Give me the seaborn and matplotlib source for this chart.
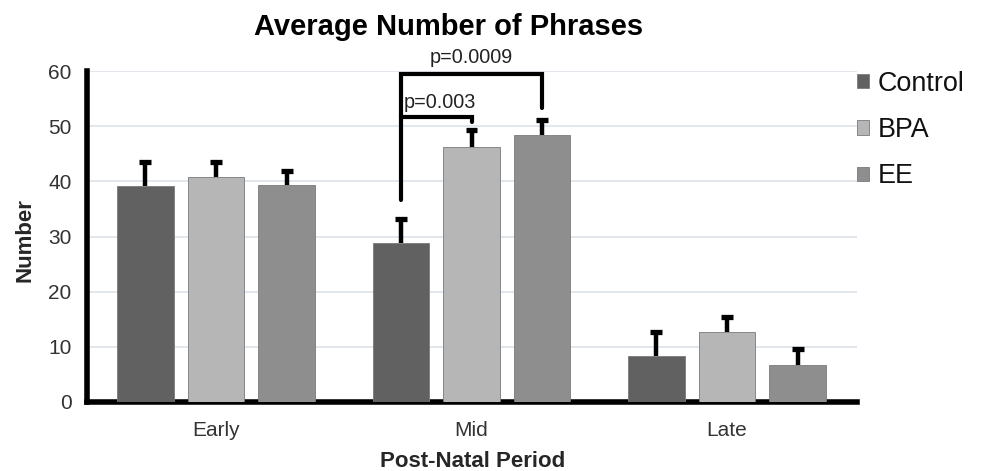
import matplotlib
matplotlib.use("Agg")
import matplotlib.pyplot as plt
from matplotlib.patches import Patch
import seaborn as sns
import pandas as pd

# Data
periods = ["Early", "Mid", "Late"]
groups = ["Control", "BPA", "EE"]
control_mean = [39.1, 28.8, 8.3]
bpa_mean = [40.8, 46.2, 12.7]
ee_mean = [39.3, 48.4, 6.7]
control_err = [4.9, 4.9, 4.9]
bpa_err = [3.2, 3.6, 3.2]
ee_err = [3.1, 3.2, 3.3]
y_ticks = [0, 10, 20, 30, 40, 50, 60]

colors = ["#616161", "#b6b6b6", "#8e8e8e"]

means = {"Control": control_mean, "BPA": bpa_mean, "EE": ee_mean}
errs = {"Control": control_err, "BPA": bpa_err, "EE": ee_err}

rows = []
for g in groups:
    for p, m, e in zip(periods, means[g], errs[g]):
        rows.append({"Period": p, "Group": g, "Number": m, "Err": e})
df = pd.DataFrame(rows)

sns.set_theme(style="white")
plt.rcParams["font.family"] = ["Liberation Sans", "DejaVu Sans"]

fig = plt.figure(figsize=(9.82, 4.71), dpi=100)
ax = fig.add_axes([0.0886, 0.1465, 0.7844, 0.7025])

sns.barplot(data=df, x="Period", y="Number", hue="Group", order=periods,
            hue_order=groups, palette=colors, errorbar=None, width=0.83,
            gap=0.2, edgecolor="#7a7a7a", linewidth=0.6, ax=ax, zorder=3,
            legend=False)

bar_sets = list(ax.containers)

# Upward-only error bars: stem from the bar top, flat cap at mean + error
cap_half = 0.023
cap_thick = 0.45
for container, g in zip(bar_sets, groups):
    for patch, e in zip(container.patches, errs[g]):
        xc = patch.get_x() + patch.get_width() / 2
        h = patch.get_height()
        top = h + e - cap_thick
        ax.plot([xc, xc], [h, top], color="black", lw=3.2,
                solid_capstyle="butt", zorder=4)
        ax.plot([xc - cap_half, xc + cap_half], [top, top], color="black",
                lw=3.8, solid_capstyle="butt", zorder=4)

# Significance brackets over the Mid group
mid = [c.patches[1] for c in bar_sets]
xs = [p.get_x() + p.get_width() / 2 for p in mid]
lw = 3
ax.plot([xs[0], xs[0], xs[1], xs[1]], [36.6, 51.6, 51.6, 50.7],
        color="black", lw=lw, solid_joinstyle="miter", zorder=5, clip_on=False)
ax.plot([xs[0], xs[0], xs[2], xs[2]], [51.6, 59.4, 59.4, 53.3],
        color="black", lw=lw, solid_joinstyle="miter", zorder=5, clip_on=False)
ax.text((xs[0] + xs[1]) / 2 + 0.015, 52.5, "p=0.003", ha="center",
        va="bottom", fontsize=14.3, color="#222222")
ax.text((xs[0] + xs[2]) / 2, 60.7, "p=0.0009", ha="center", va="bottom",
        fontsize=14.3, color="#222222")

ax.set_ylim(0, 60)
ax.set_xlim(-0.505, 2.51)
ax.set_yticks(y_ticks)
ax.yaxis.grid(True, color="#dde1ea", lw=1.2, zorder=0)
ax.xaxis.grid(False)
ax.set_axisbelow(True)
ax.tick_params(axis="y", length=0, labelsize=15, colors="#333333", pad=11)
ax.tick_params(axis="x", length=0, labelsize=15, colors="#333333", pad=14)
for s in ["top", "right"]:
    ax.spines[s].set_visible(False)
for s in ["left", "bottom"]:
    ax.spines[s].set_color("black")
    ax.spines[s].set_linewidth(4)

ax.set_xlabel("Post-Natal Period", fontsize=16, fontweight="bold")
ax.xaxis.label.set_va("center")
ax.xaxis.set_label_coords(0.5, -0.181)
ax.set_ylabel("Number", fontsize=16, fontweight="bold")
ax.yaxis.label.set_va("center")
ax.yaxis.set_label_coords(-0.08, 0.49)

fig.text(449 / 982, 1 - 27 / 471, "Average Number of Phrases", ha="center",
         va="center", fontsize=21, fontweight="bold", color="black")

# Legend
handles = [Patch(facecolor=c, edgecolor="#7a7a7a", lw=0.6) for c in colors]
fig.legend(handles, groups, loc="center left",
           bbox_to_anchor=(0.873, 1 - 130 / 471), frameon=False,
           fontsize=19.4, handlelength=0.45, handleheight=0.45,
           handletextpad=0.3, labelspacing=0.76, borderpad=0,
           borderaxespad=0, labelcolor="#111111")

fig.savefig("out.png", dpi=100)
